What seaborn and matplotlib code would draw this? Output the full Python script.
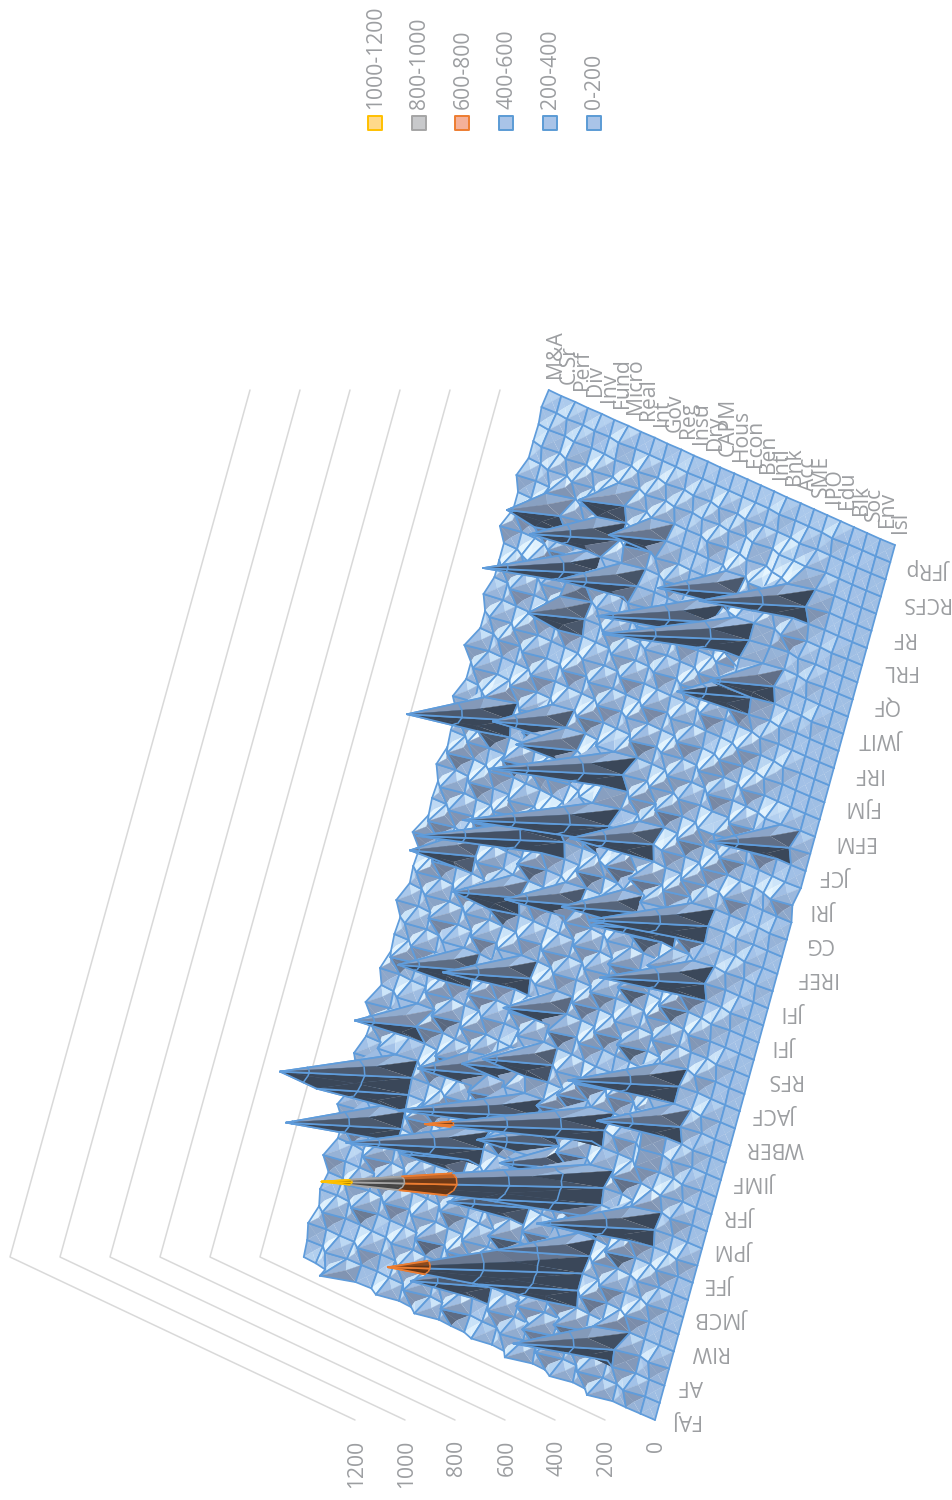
import numpy as np
import pandas as pd
import seaborn as sns
import matplotlib
matplotlib.use("Agg")
import matplotlib.pyplot as plt
from matplotlib.collections import PolyCollection
from matplotlib.colors import to_rgb

journals = ["FAJ", "AF", "RIW", "JMCB", "JFE", "JPM", "JFR", "JIMF", "WBER", "JACF", "RFS", "JFI", "JFI",
            "IREF", "CG", "JRI", "JCF", "EFM", "FJM", "IRF", "JWIT", "QF", "FRL", "RF", "RCFS", "JFRp"]
topics = ["M&A", "C.Sr", "Perf", "Div", "Inv", "Fund", "Micro", "Real", "Int", "Gov", "Reg", "Insu", "Dry", "CAPM",
          "Hous", "Econ", "Ben", "Intl", "Bnk", "Acc", "SME", "IPO", "Edu", "Blk", "Soc", "Env", "Isl"]
value_ticks = [0, 200, 400, 600, 800, 1000, 1200]
band_names = ["1000-1200", "800-1000", "600-800", "400-600", "200-400", "0-200"]

# one row per journal (every other one is labelled), columns follow topics
counts = np.array([
    [25,30,45,120,30,20,55,15,20,60,15,20,20,45,15,20,70,12,15,50,10,15,60,10,10,5,0],
    [30,20,65,30,25,15,20,18,70,15,20,80,15,20,15,55,15,20,70,15,15,65,15,12,40,5,0],
    [45,25,25,20,60,20,15,60,15,20,55,15,25,15,70,15,15,90,20,18,60,15,15,50,8,8,0],
    [20,60,20,15,20,18,50,15,20,15,20,15,290,20,15,15,80,20,15,90,15,70,410,60,10,30,0],
    [35,20,25,70,15,20,15,20,80,15,60,20,90,15,20,75,15,20,85,15,20,20,110,15,10,5,0],
    [20,15,60,15,20,65,15,60,15,20,15,70,20,20,15,15,85,20,380,30,75,20,20,55,10,8,0],
    [60,25,20,15,70,15,20,15,20,70,15,20,15,90,15,20,30,30,756,30,20,70,20,10,40,5,0],
    [20,15,25,80,15,20,70,15,60,15,20,15,60,20,20,80,20,25,340,20,65,15,18,45,8,8,0],
    [20,70,15,20,20,60,15,20,15,20,90,15,20,290,15,20,15,70,30,15,20,85,15,10,40,5,0],
    [60,20,20,424,15,20,15,80,232,15,20,60,20,25,70,20,60,20,30,120,15,20,60,15,8,30,0],
    [20,15,70,60,20,70,15,20,30,520,25,20,15,80,20,15,20,80,470,30,25,110,448,30,10,5,0],
    [20,60,20,340,25,15,80,15,20,30,20,90,20,30,60,244,20,30,1116,40,20,30,90,20,40,5,0],
    [50,20,25,505,30,15,20,60,20,15,60,15,25,20,300,25,90,20,60,20,80,15,25,45,8,8,0],
    [20,15,80,60,25,70,15,20,25,90,15,30,530,25,20,70,20,20,30,20,15,60,15,10,30,5,0],
    [15,70,20,25,15,20,80,20,256,30,20,70,40,20,100,20,30,706,40,60,20,60,20,40,8,5,0],
    [60,15,20,262,70,15,20,15,70,15,204,20,60,20,15,90,20,60,20,20,15,70,25,15,25,5,0],
    [15,20,60,30,15,80,15,70,20,25,30,15,246,20,60,15,90,20,70,15,60,30,320,40,8,8,0],
    [40,15,20,15,70,15,20,15,60,20,15,75,20,20,15,20,25,15,20,65,15,80,30,15,30,5,0],
    [15,70,15,25,15,60,15,80,15,15,70,15,20,80,15,60,15,20,15,20,60,420,30,8,8,5,0],
    [20,15,60,15,20,270,20,15,60,15,15,20,220,20,15,15,70,15,85,15,20,70,15,40,8,8,0],
    [15,50,15,20,60,25,15,20,15,322,25,60,25,15,70,15,15,60,15,15,70,15,20,8,25,5,0],
    [50,15,20,80,15,15,70,20,70,25,15,15,60,20,15,70,20,15,15,60,15,15,50,15,8,5,0],
    [15,20,60,15,15,60,15,15,15,60,20,70,15,15,60,15,15,85,15,20,80,15,15,30,8,5,0],
    [20,60,15,20,70,15,20,90,20,15,15,20,15,70,15,20,90,15,25,20,25,70,15,8,25,5,0],
    [15,15,70,25,15,20,70,250,40,60,15,20,70,15,20,60,15,20,15,110,30,406,40,10,8,5,0],
    [60,15,30,230,20,70,15,30,20,15,40,274,30,60,15,20,15,90,20,25,15,50,20,30,8,15,0],
    [15,70,15,40,15,15,20,15,85,20,15,50,20,15,90,278,20,30,324,30,90,25,15,8,25,5,0],
    [20,15,60,15,70,20,70,15,20,60,20,15,80,20,20,50,20,90,40,25,458,30,15,25,8,5,0],
    [15,60,15,20,15,60,15,90,40,575,40,20,15,60,90,15,100,20,70,15,60,20,15,8,8,15,0],
    [40,15,20,70,25,15,70,20,60,80,90,40,120,25,20,60,20,25,15,70,20,25,60,8,8,5,0],
    [15,70,15,20,60,15,20,15,20,30,80,20,590,60,40,320,40,60,20,15,60,8,10,8,25,50,15],
    [20,15,60,25,15,80,15,70,60,20,40,90,90,30,15,60,15,15,70,15,15,60,8,8,8,10,0],
    [15,60,15,90,15,15,20,15,20,70,15,20,70,20,70,15,70,15,15,60,50,8,20,60,8,5,0],
    [50,15,40,392,30,20,90,30,220,30,60,20,540,60,15,60,15,50,15,20,8,60,15,40,296,30,0],
    [15,20,60,100,20,70,25,280,40,15,20,80,60,20,15,15,60,15,15,60,10,8,15,40,30,5,0],
    [15,60,15,20,70,15,15,60,25,70,15,15,15,70,15,50,15,15,60,10,8,50,8,8,8,5,0],
    [60,15,15,15,15,60,15,15,15,15,60,15,50,15,15,15,60,10,15,50,8,8,30,8,8,5,0],
    [15,15,50,15,60,15,15,60,15,60,15,15,15,60,10,50,10,15,10,15,50,8,8,25,8,5,0],
    [15,50,15,60,15,15,15,15,50,15,15,60,15,15,15,10,15,60,10,10,8,30,8,8,8,5,0],
    [40,15,15,15,50,15,60,15,15,15,60,15,15,50,10,50,10,15,10,70,40,8,25,8,8,5,0],
    [15,15,60,15,15,60,200,25,15,60,15,15,50,15,15,10,50,15,50,292,50,8,8,8,20,5,0],
    [15,60,15,20,60,15,90,15,50,15,15,50,15,10,50,15,10,50,15,80,232,30,8,8,8,5,0],
    [15,15,50,80,15,20,80,60,15,15,50,10,15,10,10,60,15,15,90,80,40,8,8,25,8,5,0],
    [50,15,15,30,70,15,70,488,40,295,30,15,15,15,15,456,50,15,592,60,30,8,25,8,8,5,0],
    [15,60,15,90,15,50,30,90,90,60,15,15,50,10,15,70,20,60,80,60,30,60,8,8,15,5,0],
    [15,15,50,218,60,15,40,338,30,70,15,50,10,15,10,30,304,40,40,15,60,30,20,8,8,5,0],
    [40,15,15,80,15,50,15,90,25,50,200,25,15,10,15,10,50,25,70,60,100,422,50,8,8,5,0],
    [10,15,40,15,50,15,60,180,50,15,50,10,15,10,40,10,15,40,15,45,60,90,30,8,8,5,0],
    [10,30,10,40,10,40,10,40,10,40,10,30,10,25,8,25,8,35,8,35,30,35,8,8,8,5,0],
    [8,20,8,25,8,10,20,8,35,8,30,8,25,8,30,8,30,8,8,8,25,8,8,8,8,5,0],
    [15,8,20,8,15,8,25,10,8,8,8,15,8,8,8,8,8,8,20,8,8,8,20,8,5,5,0],
    [5,8,5,8,5,8,5,8,5,8,5,8,5,8,5,5,5,5,8,5,5,5,5,5,5,5,0],
], dtype=float)

n_rows, n_cols = counts.shape
grey_text = "#9c9ea1"
line_blue = "#5f9cdb"
levels = [0, 200, 400, 600, 800, 1000, 1200]
band_fill = ["#ffffff", "#ffffff", "#ffffff", "#ee7d31", "#a5a5a5", "#ffc000"]
band_line = [line_blue, line_blue, line_blue, "#ed7d31", "#a5a5a5", "#ffc000"]

# oblique view of the chart, turned on its side like the source image
def project(r, d, v):
    fr, fd = r / (n_rows - 1), d / (n_cols - 1)
    sx = 655 + 240 * fr - 345 * fd - v / 4
    sy = 1420 - 875 * fr - (163 - 8 * fr) * fd
    return sx, sy

light = np.array([0.50, 0.50, 0.70])
light = light / np.linalg.norm(light)
ramp_b = [-0.25, 0.05, 0.35, 0.70, 0.84, 0.98]
ramp_c = np.array([to_rgb(c) for c in ["#3a4759", "#7a8aa6", "#8ea8cb", "#a3c2e8", "#c6e0f7", "#e6f6ff"]])

def shade(tri, band):
    a, b, c = [np.array([p[0], p[1], p[2] / 55.0]) for p in tri]
    n = np.cross(b - a, c - a)
    n = n / np.linalg.norm(n)
    if n[2] < 0:
        n = -n
    s = float(n @ light)
    rgb = np.array([np.interp(s, ramp_b, ramp_c[:, i]) for i in range(3)])
    if band < 3:
        return rgb
    lum = 0.42 + 0.75 * (np.clip(s, -0.25, 0.72) + 0.25) / 0.97
    return np.clip(np.array(to_rgb(band_fill[band])) * lum, 0, 1)

def clip_band(tri, lo, hi):
    poly = list(tri)
    for lim, keep_above in [(lo, True), (hi, False)]:
        out = []
        for i in range(len(poly)):
            p, q = poly[i], poly[(i + 1) % len(poly)]
            pin = p[2] >= lim if keep_above else p[2] <= lim
            qin = q[2] >= lim if keep_above else q[2] <= lim
            if pin:
                out.append(p)
            if pin != qin:
                t = (lim - p[2]) / (q[2] - p[2])
                out.append(tuple(p[k] + t * (q[k] - p[k]) for k in range(3)))
        poly = out
        if not poly:
            break
    return poly

def band_of(v):
    return min(max(int(v // 200), 0), 5)

polys, faces, edges, widths = [], [], [], []

def add_line(a, b):
    # grid edge cut at the band limits so each piece takes its band colour
    cuts = [0.0]
    if a[2] != b[2]:
        for lv in levels[1:-1]:
            t = (lv - a[2]) / (b[2] - a[2])
            if 0 < t < 1:
                cuts.append(t)
    cuts = sorted(cuts) + [1.0]
    for t0, t1 in zip(cuts[:-1], cuts[1:]):
        p0 = [a[k] + t0 * (b[k] - a[k]) for k in range(3)]
        p1 = [a[k] + t1 * (b[k] - a[k]) for k in range(3)]
        polys.append([project(*p0), project(*p1)])
        faces.append((0, 0, 0, 0))
        edges.append(band_line[band_of((p0[2] + p1[2]) / 2)])
        widths.append(1.25)

# far cells first so that near ones paint over them
for d in range(n_cols - 2, -1, -1):
    for r in range(n_rows - 1):
        c = n_cols - 1 - d
        p00 = (r, d, counts[r, c])
        p10 = (r + 1, d, counts[r + 1, c])
        p01 = (r, d + 1, counts[r, c - 1])
        p11 = (r + 1, d + 1, counts[r + 1, c - 1])
        mid = (r + 0.5, d + 0.5, (p00[2] + p10[2] + p01[2] + p11[2]) / 4)
        tris = [(p01, p11, mid), (p00, p01, mid), (p10, p11, mid), (p00, p10, mid)]
        for tri in tris:
            for b in range(6):
                part = clip_band(tri, levels[b], levels[b + 1])
                if len(part) < 3:
                    continue
                col = shade(tri, b)
                polys.append([project(*p) for p in part])
                faces.append(tuple(col) + (1,))
                edges.append(tuple(col))
                widths.append(0.25)
            # contour across the facet at each band limit
            for lv in levels[1:-1]:
                pts = []
                for i in range(3):
                    p, q = tri[i], tri[(i + 1) % 3]
                    if (p[2] - lv) * (q[2] - lv) < 0:
                        t = (lv - p[2]) / (q[2] - p[2])
                        pts.append(project(*[p[k] + t * (q[k] - p[k]) for k in range(3)]))
                if len(pts) == 2:
                    polys.append(pts)
                    faces.append((0, 0, 0, 0))
                    edges.append(band_line[band_of(lv)])
                    widths.append(1.1)
        add_line(p01, p11)
        add_line(p00, p01)
        add_line(p10, p11)
        add_line(p00, p10)

sns.set_theme(style="white")
plt.rcParams["font.family"] = ["Open Sans", "DejaVu Sans"]
fig = plt.figure(figsize=(9.53, 15), dpi=100)
ax = fig.add_axes([0, 0, 1, 1])

wall_rows = []
for v in value_ticks[1:]:
    for step, (r, d) in enumerate([(0, 0), (0, n_cols - 1), (n_rows - 1, n_cols - 1)]):
        sx, sy = project(r, d, v)
        wall_rows.append({"level": v, "step": step, "x": sx, "y": sy})
walls = pd.DataFrame(wall_rows)
sns.lineplot(data=walls, x="x", y="y", units="level", estimator=None, sort=False,
             color="#d9d9d9", linewidth=1.1, legend=False, ax=ax)

ax.add_collection(PolyCollection(polys, closed=False, facecolors=faces, edgecolors=edges,
                                 linewidths=widths, zorder=3, capstyle="round"))

fs = 15.2
for v in value_ticks:
    sx, _ = project(0, 0, v)
    ax.text(sx + 2, 1440, str(v), rotation=90, ha="center", va="top", fontsize=fs, color=grey_text)
for k, name in enumerate(journals):
    r = k * 2 * 17 / (875 / (n_rows - 1))
    sx, sy = project(r, 0, 0)
    ax.text(sx + 14 + 0.3 * k, sy - 1, name, rotation=180, ha="left", va="center", fontsize=fs, color=grey_text)
for c, name in enumerate(topics):
    sx, sy = project(n_rows - 1, n_cols - 1 - c, 0)
    ax.text(sx + 6, sy - 12, name, rotation=90, ha="center", va="bottom", fontsize=fs, color=grey_text)

legend_fill = ["#ffd98a", "#c8c9cb", "#f4b19a", "#a9c4e8", "#a9c4e8", "#a9c4e8"]
legend_edge = ["#ffc000", "#a5a5a5", "#ed7d31", "#5b9bd5", "#5b9bd5", "#5b9bd5"]
legend_x = [375, 419, 462, 506, 550, 594]
legend = pd.DataFrame({"x": legend_x, "y": [123] * 6})
sns.scatterplot(data=legend, x="x", y="y", marker="s", s=95, c=legend_fill, edgecolor=legend_edge,
                linewidth=1.4, legend=False, ax=ax)
for x, name in zip(legend_x, band_names):
    ax.text(x + 1, 109, name, rotation=90, ha="center", va="bottom", fontsize=fs, color=grey_text)

ax.set_xlim(0, 953)
ax.set_ylim(1500, 0)
ax.axis("off")
fig.savefig("out.png", dpi=100, facecolor="white")
